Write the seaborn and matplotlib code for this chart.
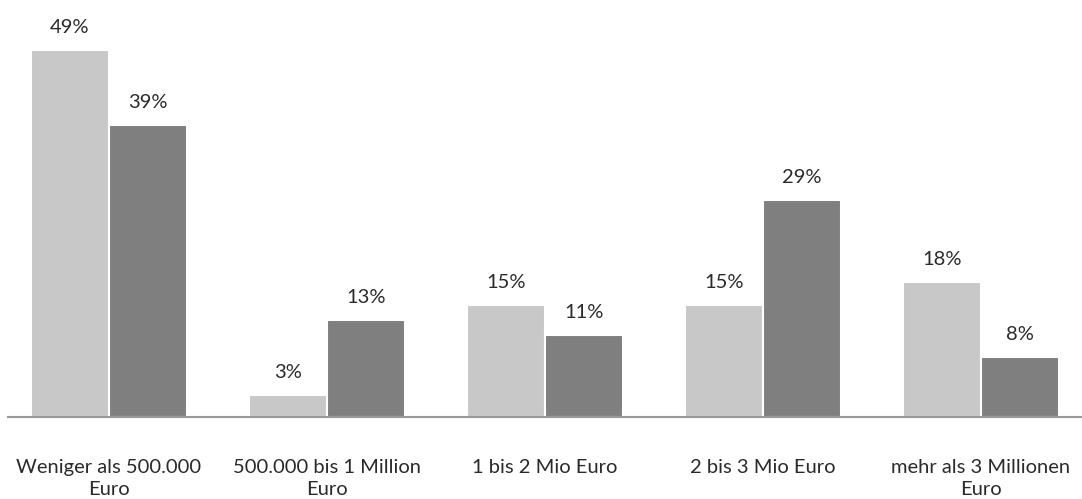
import matplotlib
matplotlib.use("Agg")
import matplotlib.pyplot as plt
import seaborn as sns
import pandas as pd

categories = [
    "Weniger als 500.000\nEuro",
    "500.000 bis 1 Million\nEuro",
    "1 bis 2 Mio Euro",
    "2 bis 3 Mio Euro",
    "mehr als 3 Millionen\nEuro",
]
series_names = ["A", "B"]
values_a = [49, 3, 15, 15, 18]
values_b = [39, 13, 11, 29, 8]

df = pd.DataFrame({
    "Kategorie": categories * 2,
    "Gruppe": [series_names[0]] * len(categories) + [series_names[1]] * len(categories),
    "Anteil": values_a + values_b,
})

sns.set_style("white")
plt.rcParams["font.family"] = ["Lato", "DejaVu Sans"]

fig = plt.figure(figsize=(10.82, 4.99), dpi=100)
ax = fig.add_axes([0.0074, 0.1643, 0.9926, 0.8357])

sns.barplot(
    data=df, x="Kategorie", y="Anteil", hue="Gruppe",
    palette=["#c8c8c8", "#7f7f7f"], width=0.715,
    edgecolor="white", linewidth=1.5, legend=False, ax=ax,
)

for container in ax.containers:
    labels = [f"{int(v)}%" for v in container.datavalues]
    ax.bar_label(container, labels=labels, padding=10, fontsize=14.5,
                 color="#2a2a2a")

ax.set_xlim(-0.463, 4.463)
ax.set_ylim(0, 55.7)
ax.set_xlabel("")
ax.set_ylabel("")
ax.set_yticks([])
for side in ["top", "right", "left"]:
    ax.spines[side].set_visible(False)
ax.spines["bottom"].set_color("#999999")
ax.spines["bottom"].set_linewidth(1.5)
ax.tick_params(axis="x", length=0, pad=30, labelsize=14.5, labelcolor="#2a2a2a")
for t in ax.get_xticklabels():
    t.set_linespacing(1.4)

fig.savefig("out.png", dpi=100)
